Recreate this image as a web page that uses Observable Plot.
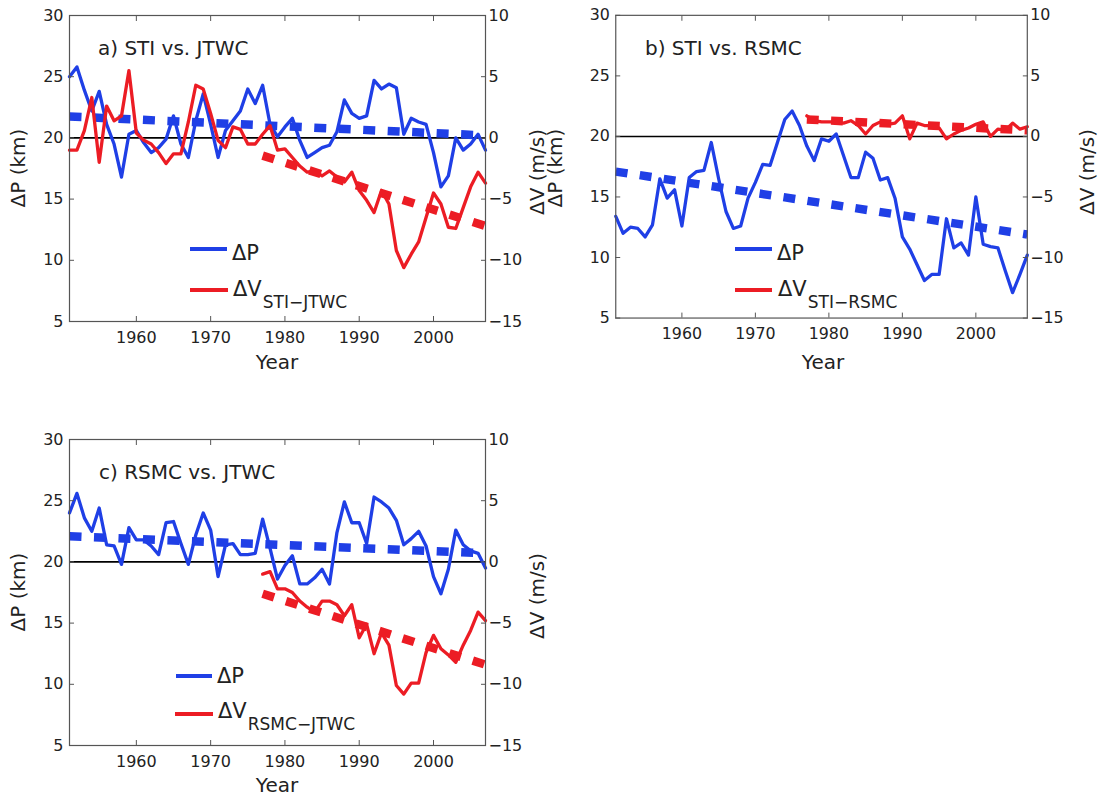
<!DOCTYPE html>
<html><head><meta charset="utf-8">
<script src="https://cdn.jsdelivr.net/npm/d3@7"></script>
<script src="https://cdn.jsdelivr.net/npm/@observablehq/plot@0.6"></script>
<style>
body{margin:0;background:#fff;}
#wrap{position:relative;width:1101px;height:797px;overflow:hidden;background:#fff;}
.panel{position:absolute;}
#ann{position:absolute;left:0;top:0;pointer-events:none;}
</style></head><body><div id="wrap"></div>
<script>
// ---------- data ----------
const yearsAll = [1951,1952,1953,1954,1955,1956,1957,1958,1959,1960,1961,1962,1963,1964,1965,1966,1967,1968,1969,1970,1971,1972,1973,1974,1975,1976,1977,1978,1979,1980,1981,1982,1983,1984,1985,1986,1987,1988,1989,1990,1991,1992,1993,1994,1995,1996,1997,1998,1999,2000,2001,2002,2003,2004,2005,2006,2007];
const yearsV = [1977,1978,1979,1980,1981,1982,1983,1984,1985,1986,1987,1988,1989,1990,1991,1992,1993,1994,1995,1996,1997,1998,1999,2000,2001,2002,2003,2004,2005,2006,2007];
const trendPYears = [1951, 2007];
const trendVYears = [1977, 2007];
const xTicks = [1960, 1970, 1980, 1990, 2000];
const pTicks = [5, 10, 15, 20, 25, 30];
const vTicks = [-15, -10, -5, 0, 5, 10];

// a) STI vs. JTWC
const dP_a = [25.0,25.8,23.9,22.2,23.8,21.1,19.5,16.8,20.3,20.6,
              19.6,18.8,19.2,19.9,21.8,19.5,18.4,21.4,23.6,21.1,
              18.4,20.6,21.4,22.2,24.0,22.8,24.3,21.1,20.1,20.9,
              21.6,19.8,18.4,18.8,19.2,19.4,20.5,23.1,22.0,21.6,
              21.8,24.7,24.0,24.4,24.1,20.3,21.6,21.3,21.1,18.8,
              16.0,16.9,20.0,19.0,19.5,20.3,19.0];
const dV_a = [-1.0,-1.0,0.6,3.3,-2.0,2.6,1.4,1.8,5.5,0.4,
              -0.2,-0.5,-1.2,-2.1,-1.3,-1.3,1.3,4.3,4.0,2.0,
              -0.2,-0.8,0.9,0.7,-0.5,-0.5,0.3,1.0,-1.0,-0.9,
              -1.6,-2.3,-2.8,-2.7,-3.1,-2.7,-3.2,-3.6,-2.8,-4.3,
              -5.1,-6.1,-4.3,-5.4,-9.2,-10.6,-9.5,-8.5,-6.5,-4.5,
              -5.4,-7.3,-7.4,-5.7,-4.0,-2.8,-3.7];
const trendP_a = [21.75, 20.2];
const trendV_a = [-1.45, -7.2];

// b) STI vs. RSMC
const dP_b = [13.4,12.0,12.5,12.4,11.7,12.7,16.5,14.9,15.6,12.6,
              16.6,17.1,17.2,19.5,16.5,13.8,12.4,12.6,14.9,16.2,
              17.7,17.6,19.5,21.4,22.1,20.9,19.2,18.0,19.8,19.6,
              20.2,18.4,16.6,16.6,18.7,18.2,16.4,16.6,14.9,11.7,
              10.7,9.4,8.1,8.6,8.6,13.2,10.8,11.2,10.2,15.0,
              11.1,10.9,10.8,8.9,7.1,8.6,10.2];
const dV_b = [1.7,1.3,1.2,1.2,1.2,1.1,1.3,0.9,0.2,0.9,
              1.2,1.0,1.1,1.7,-0.2,1.1,0.9,0.9,0.7,-0.2,
              0.2,0.5,0.7,1.0,1.2,0.0,0.6,0.5,1.1,0.6,0.8];
const trendP_b = [17.1, 11.9];
const trendV_b = [1.4, 0.5];

// c) RSMC vs. JTWC
const dP_c = [24.0,25.6,23.6,22.5,24.4,21.4,21.3,19.8,22.8,21.8,
              21.8,21.3,20.6,23.2,23.3,21.5,19.8,22.2,24.0,22.6,
              18.8,21.4,21.5,20.6,20.6,20.7,23.5,21.1,18.6,19.7,
              20.5,18.2,18.2,18.7,19.4,18.2,22.4,24.9,23.2,23.2,
              21.5,25.3,24.9,24.4,23.4,21.4,21.9,22.5,21.3,18.8,
              17.4,19.4,22.6,21.4,20.9,20.7,19.5];
const dV_c = [-1.0,-0.8,-2.2,-2.2,-2.5,-3.2,-3.7,-4.1,-3.2,-3.2,
              -3.5,-4.4,-3.5,-6.2,-5.1,-7.5,-5.8,-6.8,-10.1,-10.8,
              -9.9,-9.9,-7.4,-6.0,-7.1,-7.6,-8.2,-6.8,-5.6,-4.1,-4.8];
const trendP_c = [22.1, 20.7];
const trendV_c = [-2.6, -8.4];

// ---------- styling ----------
const BLUE = "#1f3fe6", RED = "#ec1c24", AXIS = "#555", TXT = "#222";
const FONT = "DejaVu Sans";
const V_OFFSET = 20;   // ΔV axis (-15..10) is ΔP axis (5..30) shifted by 20
const fmtV = v => (v < 0 ? "\u2212" + Math.abs(v) : String(v));

function panel(cfg) {
  const ptsP = cfg.pYears.map((x, i) => ({x, y: cfg.dP[i]}));
  const ptsV = cfg.vYears.map((x, i) => ({x, y: cfg.dV[i] + V_OFFSET}));
  const trP = trendPYears.map((x, i) => ({x, y: cfg.trendP[i]}));
  const trV = trendVYears.map((x, i) => ({x, y: cfg.trendV[i] + V_OFFSET}));
  const vT = vTicks.map(v => v + V_OFFSET);
  return Plot.plot({
    width: 560, height: 380,
    marginLeft: 69, marginRight: 75, marginTop: 15, marginBottom: 59,
    x: {domain: [1951, 2007]},
    y: {domain: [5, 30]},
    style: {background: "transparent", fontFamily: FONT, fontSize: "16px", color: TXT, overflow: "visible"},
    marks: [
      Plot.ruleY([0 + V_OFFSET], {stroke: "#000", strokeWidth: 1.6}),
      Plot.line(ptsP, {x: "x", y: "y", stroke: BLUE, strokeWidth: 3.3}),
      Plot.line(trP, {x: "x", y: "y", stroke: BLUE, strokeWidth: 8.5, strokeDasharray: "12,12.5", strokeLinecap: "butt"}),
      Plot.line(ptsV, {x: "x", y: "y", stroke: RED, strokeWidth: 3.3}),
      Plot.line(trV, {x: "x", y: "y", stroke: RED, strokeWidth: 8.5, strokeDasharray: "12,12.5", strokeLinecap: "butt"}),
      Plot.frame({stroke: AXIS, strokeWidth: 1.2}),
      // left ΔP axis
      Plot.axisY({anchor: "left", ticks: pTicks, tickSize: 0, tickPadding: 6, tickFormat: d => String(d), label: null}),
      Plot.axisY({anchor: "left", ticks: pTicks, tickSize: 5, dx: 5, stroke: AXIS, tickFormat: () => "", label: null}),
      // right ΔV axis
      Plot.axisY({anchor: "right", ticks: vT, tickSize: 0, tickPadding: 3, tickFormat: d => fmtV(d - V_OFFSET), label: null}),
      Plot.axisY({anchor: "right", ticks: vT, tickSize: 5, dx: -5, stroke: AXIS, tickFormat: () => "", label: null}),
      // bottom / top year axis
      Plot.axisX({anchor: "bottom", ticks: xTicks, tickSize: 0, tickPadding: 10, tickFormat: d => String(d), label: null}),
      Plot.axisX({anchor: "bottom", ticks: xTicks, tickSize: 5, dy: -5, stroke: AXIS, tickFormat: () => "", label: null}),
      Plot.axisX({anchor: "top", ticks: xTicks, tickSize: 5, dy: 5, stroke: AXIS, tickFormat: () => "", label: null})
    ]
  });
}

const wrap = document.getElementById("wrap");
const panels = [
  {left: 0, top: 0, pYears: yearsAll, dP: dP_a, vYears: yearsAll, dV: dV_a, trendP: trendP_a, trendV: trendV_a},
  {left: 547, top: 0, pYears: yearsAll, dP: dP_b, vYears: yearsV, dV: dV_b, trendP: trendP_b, trendV: trendV_b},
  {left: 0, top: 424, pYears: yearsAll, dP: dP_c, vYears: yearsV, dV: dV_c, trendP: trendP_c, trendV: trendV_c}
];
for (const p of panels) {
  const d = document.createElement("div");
  d.className = "panel";
  d.style.left = p.left + "px";
  d.style.top = p.top + "px";
  d.appendChild(panel(p));
  wrap.appendChild(d);
}

// ---------- annotations: titles, axis labels, legends ----------
const titles = ["a) STI vs. JTWC", "b) STI vs. RSMC", "c) RSMC vs. JTWC"];
const subs = ["STI\u2212JTWC", "STI\u2212RSMC", "RSMC\u2212JTWC"];
const ann = d3.select(wrap).append("svg").attr("id", "ann")
  .attr("width", 1101).attr("height", 797)
  .style("font-family", FONT).attr("fill", TXT);

const layout = [
  {title: [98, 55], yl: [18, 168], yr: [537, 172], year: [277, 369],
   lp: {x1: 190, x2: 227, y: 249, tx: 232, ty: 260}, lv: {x1: 190, x2: 228, y: 290, tx: 233, ty: 296}},
  {title: [645, 55], yl: [555, 168], yr: [1087, 172], year: [823, 369],
   lp: {x1: 735, x2: 772, y: 249, tx: 777, ty: 260}, lv: {x1: 735, x2: 772, y: 290, tx: 778, ty: 296}},
  {title: [99, 479], yl: [18, 592], yr: [537, 596], year: [277, 792],
   lp: {x1: 176, x2: 212, y: 676, tx: 217, ty: 683}, lv: {x1: 175, x2: 213, y: 714, tx: 218, ty: 718}}
];

layout.forEach((L, i) => {
  ann.append("text").attr("x", L.title[0]).attr("y", L.title[1]).attr("font-size", 20).text(titles[i]);
  ann.append("text").attr("transform", `translate(${L.yl[0]},${L.yl[1]}) rotate(-90)`)
    .attr("text-anchor", "middle").attr("dominant-baseline", "central").attr("font-size", 20).text("\u0394P (km)");
  ann.append("text").attr("transform", `translate(${L.yr[0]},${L.yr[1]}) rotate(-90)`)
    .attr("text-anchor", "middle").attr("dominant-baseline", "central").attr("font-size", 20).text("\u0394V (m/s)");
  ann.append("text").attr("x", L.year[0]).attr("y", L.year[1]).attr("text-anchor", "middle").attr("font-size", 20).text("Year");
  // legend
  ann.append("line").attr("x1", L.lp.x1).attr("x2", L.lp.x2).attr("y1", L.lp.y).attr("y2", L.lp.y)
    .attr("stroke", BLUE).attr("stroke-width", 3.8);
  ann.append("text").attr("x", L.lp.tx).attr("y", L.lp.ty).attr("font-size", 21).text("\u0394P");
  ann.append("line").attr("x1", L.lv.x1).attr("x2", L.lv.x2).attr("y1", L.lv.y).attr("y2", L.lv.y)
    .attr("stroke", RED).attr("stroke-width", 3.8);
  const t = ann.append("text").attr("x", L.lv.tx).attr("y", L.lv.ty).attr("font-size", 21);
  t.append("tspan").text("\u0394V");
  t.append("tspan").attr("dy", 12).attr("dx", 1).attr("font-size", 17).text(subs[i]);
});
</script>
</body></html>
